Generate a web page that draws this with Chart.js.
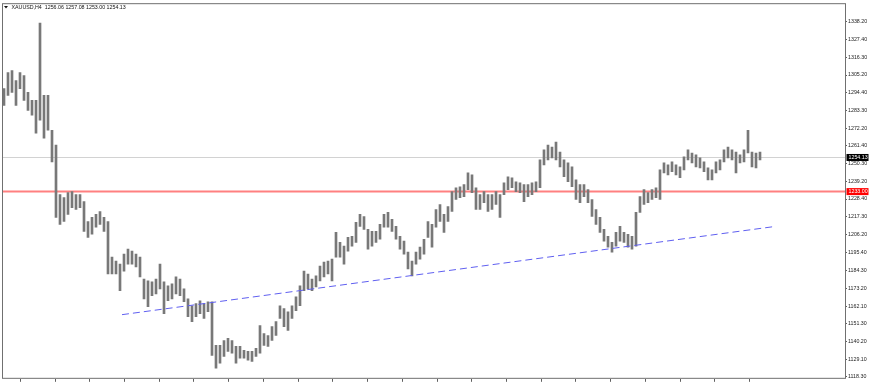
<!DOCTYPE html>
<html>
<head>
<meta charset="utf-8">
<script src="https://cdn.jsdelivr.net/npm/chart.js@4.4.1/dist/chart.umd.min.js"></script>
<style>
  html, body { margin: 0; padding: 0; background: #fff; }
</style>
</head>
<body>
<canvas id="chart" width="870" height="383"></canvas>
<script>
// symbol and last bar (open, high, low, close)
const symbolTitle = 'XAUUSD,H4';
const lastBar = [1256.06, 1257.08, 1253.00, 1254.13];

// H4 bars: high / low
const highs = [
  1296.8, 1306.7, 1307.9, 1301.8, 1306.7, 1304.8, 1294.4, 1289.5, 1289.5, 1337.4,
  1292.6, 1292.6, 1271.0, 1261.8, 1231.1, 1229.3, 1232.4, 1233.0, 1231.1, 1231.1,
  1226.8, 1214.5, 1217.0, 1218.9, 1220.7, 1217.0, 1214.5, 1192.4, 1190.0, 1188.1,
  1194.3, 1197.4, 1196.1, 1194.3, 1192.4, 1178.9, 1177.7, 1177.1, 1178.9, 1188.1,
  1177.1, 1174.6, 1175.9, 1180.2, 1178.9, 1172.8, 1166.6, 1162.3, 1163.6, 1165.4,
  1163.6, 1164.8, 1164.8, 1137.8, 1137.8, 1140.8, 1142.1, 1140.8, 1137.2, 1137.2,
  1134.7, 1134.1, 1134.1, 1135.9, 1150.1, 1145.1, 1143.9, 1149.4, 1152.5, 1162.3,
  1160.5, 1158.6, 1162.3, 1167.9, 1174.6, 1183.8, 1182.0, 1178.9, 1180.8, 1186.9,
  1189.4, 1190.0, 1191.2, 1207.8, 1201.6, 1199.2, 1204.7, 1205.3, 1213.9, 1218.9,
  1217.6, 1209.6, 1208.4, 1208.4, 1212.7, 1218.9, 1220.1, 1215.8, 1211.5, 1205.3,
  1202.3, 1195.5, 1190.0, 1195.5, 1198.6, 1203.5, 1214.5, 1212.7, 1221.9, 1225.0,
  1218.9, 1223.8, 1233.0, 1235.4, 1236.0, 1237.3, 1244.6, 1243.4, 1235.4, 1231.1,
  1233.0, 1231.1, 1231.1, 1233.0, 1231.1, 1238.5, 1242.2, 1241.6, 1239.1, 1238.5,
  1237.3, 1237.3, 1238.5, 1239.1, 1252.6, 1258.8, 1261.8, 1260.6, 1263.7, 1257.5,
  1252.6, 1250.8, 1248.3, 1240.3, 1237.3, 1237.3, 1234.2, 1228.1, 1221.9, 1217.0,
  1209.6, 1205.3, 1201.6, 1207.8, 1211.5, 1207.8, 1206.6, 1205.3, 1220.1, 1229.9,
  1234.2, 1232.4, 1234.2, 1235.4, 1246.5, 1250.8, 1249.6, 1251.4, 1249.6, 1248.3,
  1254.5, 1258.8, 1256.9, 1255.7, 1253.9, 1251.4, 1247.7, 1246.5, 1251.4, 1252.6,
  1258.8, 1260.6, 1258.8, 1257.5, 1255.7, 1258.8, 1271.0, 1257.5, 1256.9, 1257.5
];
const lows = [
  1286.4, 1292.6, 1294.4, 1286.4, 1296.8, 1289.5, 1283.3, 1280.3, 1269.2, 1277.2,
  1266.1, 1271.0, 1251.4, 1217.0, 1212.7, 1214.5, 1218.9, 1223.1, 1221.9, 1223.1,
  1208.4, 1204.7, 1206.6, 1210.9, 1212.7, 1208.4, 1182.0, 1182.0, 1182.0, 1171.6,
  1183.8, 1188.1, 1188.1, 1186.3, 1180.2, 1166.6, 1161.7, 1168.5, 1169.7, 1172.8,
  1157.4, 1165.4, 1166.6, 1169.7, 1168.5, 1164.8, 1155.6, 1152.5, 1155.6, 1157.4,
  1154.4, 1158.6, 1131.6, 1123.6, 1126.7, 1131.0, 1134.1, 1132.9, 1126.7, 1129.8,
  1129.8, 1128.6, 1127.9, 1131.0, 1132.9, 1137.8, 1137.2, 1140.8, 1143.9, 1154.4,
  1149.4, 1147.0, 1154.4, 1159.3, 1162.3, 1171.6, 1172.8, 1171.6, 1174.0, 1177.7,
  1180.2, 1182.0, 1177.7, 1192.4, 1192.4, 1188.1, 1196.1, 1199.2, 1201.6, 1211.5,
  1209.6, 1197.4, 1199.2, 1201.6, 1203.5, 1210.9, 1210.9, 1208.4, 1203.5, 1197.4,
  1194.3, 1185.1, 1180.8, 1188.1, 1191.2, 1194.3, 1204.7, 1198.6, 1210.9, 1214.5,
  1207.8, 1214.5, 1220.7, 1228.1, 1229.3, 1229.9, 1234.2, 1232.4, 1221.9, 1221.9,
  1226.2, 1220.7, 1221.9, 1225.0, 1217.0, 1231.1, 1234.2, 1235.4, 1233.0, 1232.4,
  1226.8, 1229.9, 1231.1, 1233.0, 1235.4, 1249.6, 1252.6, 1253.9, 1252.6, 1248.3,
  1242.2, 1239.1, 1236.0, 1228.1, 1226.2, 1229.9, 1226.2, 1217.6, 1212.7, 1207.8,
  1202.3, 1198.6, 1195.5, 1199.2, 1202.3, 1201.6, 1198.6, 1197.4, 1199.2, 1220.1,
  1225.0, 1226.2, 1228.1, 1229.3, 1228.1, 1244.6, 1243.4, 1245.3, 1243.4, 1241.6,
  1246.5, 1252.6, 1250.8, 1248.3, 1247.7, 1245.3, 1240.3, 1240.3, 1244.6, 1246.5,
  1251.4, 1253.9, 1252.6, 1244.6, 1250.8, 1251.4, 1256.9, 1248.3, 1247.7, 1252.6
];

// price scale labels (right side)
const yTickLabels = [
  1338.20, 1327.40, 1316.30, 1305.20, 1294.40, 1283.30, 1272.20, 1261.40, 1250.30, 1239.20,
  1228.40, 1217.30, 1206.20, 1195.40, 1184.30, 1173.20, 1162.10, 1151.30, 1140.20, 1129.10, 1118.30
];

// horizontal levels
const bidLevel = 1254.13;
const redLevel = 1233.00;

// trend line (bar index, price)
const trendX = [29.5, 193];
const trendY = [1156.8, 1211.5];

// time marks on the bottom axis (bar index)
const timeMarkFirst = 8.43;
const timeMarkStep = 8.68;
const timeMarkCount = 21;

const labelFont = '5.3px "Liberation Sans", Arial, sans-serif';

// 枠・タイトル・価格ラベルを描くプラグイン
const mtPlugin = {
  id: 'mtPlugin',
  beforeDatasetsDraw(chart) {
    const { ctx, chartArea: a, scales: { y } } = chart;
    ctx.save();
    // 現在値ライン
    let py = y.getPixelForValue(bidLevel);
    ctx.strokeStyle = '#d2d2d2';
    ctx.lineWidth = 1;
    ctx.beginPath();
    ctx.moveTo(a.left, Math.round(py) + 0.5);
    ctx.lineTo(a.right, Math.round(py) + 0.5);
    ctx.stroke();
    // 水平線（赤）
    py = y.getPixelForValue(redLevel);
    ctx.strokeStyle = '#ff8080';
    ctx.lineWidth = 2;
    ctx.beginPath();
    ctx.moveTo(a.left, py);
    ctx.lineTo(a.right, py);
    ctx.stroke();
    ctx.restore();
  },
  afterDraw(chart) {
    const { ctx, chartArea: a, scales: { y } } = chart;
    ctx.save();
    // 枠
    ctx.strokeStyle = '#707070';
    ctx.lineWidth = 1;
    ctx.strokeRect(a.left - 0.5, a.top - 0.5, a.right - a.left + 1, a.bottom - a.top);
    // タイトル
    ctx.fillStyle = '#111';
    ctx.beginPath();
    ctx.moveTo(4, 6);
    ctx.lineTo(8, 6);
    ctx.lineTo(6, 8.5);
    ctx.closePath();
    ctx.fill();
    ctx.font = labelFont;
    ctx.textBaseline = 'middle';
    ctx.textAlign = 'left';
    ctx.fillText(symbolTitle + '  ' + lastBar.map(v => v.toFixed(2)).join(' '), 11.5, 7.5);
    // 価格ラベル
    const boxes = [[bidLevel, '#000000'], [redLevel, '#ff0000']];
    boxes.forEach(([v, color]) => {
      const py = y.getPixelForValue(v);
      ctx.fillStyle = color;
      ctx.fillRect(a.right + 1.5, py - 3.5, 22, 7);
      ctx.fillStyle = '#ffffff';
      ctx.fillText(v.toFixed(2), a.right + 3.5, py);
    });
    ctx.restore();
  }
};

const ctx = document.getElementById('chart').getContext('2d');
new Chart(ctx, {
  type: 'bar',
  data: {
    datasets: [
      {
        type: 'line',
        data: trendX.map((x, i) => ({ x: x, y: trendY[i] })),
        borderColor: '#5f5ff0',
        borderWidth: 1,
        borderDash: [7, 4],
        pointRadius: 0,
        fill: false,
        order: 0
      },
      {
        type: 'bar',
        data: highs.map((h, i) => ({ x: i, y: [lows[i], h] })),
        backgroundColor: '#787878',
        borderWidth: 0,
        barThickness: 2,
        order: 1
      }
    ]
  },
  options: {
    responsive: false,
    animation: false,
    events: [],
    layout: { padding: { left: 3, top: 3, right: 0, bottom: 0 } },
    plugins: {
      legend: { display: false },
      tooltip: { enabled: false }
    },
    scales: {
      x: {
        type: 'linear',
        min: -0.25,
        max: 210.25,
        offset: false,
        afterBuildTicks: (scale) => {
          const t = [];
          for (let k = 0; k < timeMarkCount; k++) t.push({ value: timeMarkFirst + k * timeMarkStep });
          scale.ticks = t;
        },
        afterFit: (scale) => { scale.height = 2.3; },
        ticks: { display: false },
        grid: { drawOnChartArea: false, tickLength: 3, color: '#606060' },
        border: { display: false }
      },
      y: {
        position: 'right',
        min: 1117.07,
        max: 1349.06,
        afterBuildTicks: (scale) => {
          scale.ticks = yTickLabels.map(v => ({ value: v }));
        },
        afterFit: (scale) => { scale.width = 25; },
        ticks: {
          autoSkip: false,
          padding: 1,
          color: '#222',
          font: { family: '"Liberation Sans", Arial, sans-serif', size: 5.3 },
          callback: (v) => Number(v).toFixed(2)
        },
        grid: { drawOnChartArea: false, tickLength: 2, color: '#606060' },
        border: { display: false }
      }
    }
  },
  plugins: [mtPlugin]
});
</script>
</body>
</html>
